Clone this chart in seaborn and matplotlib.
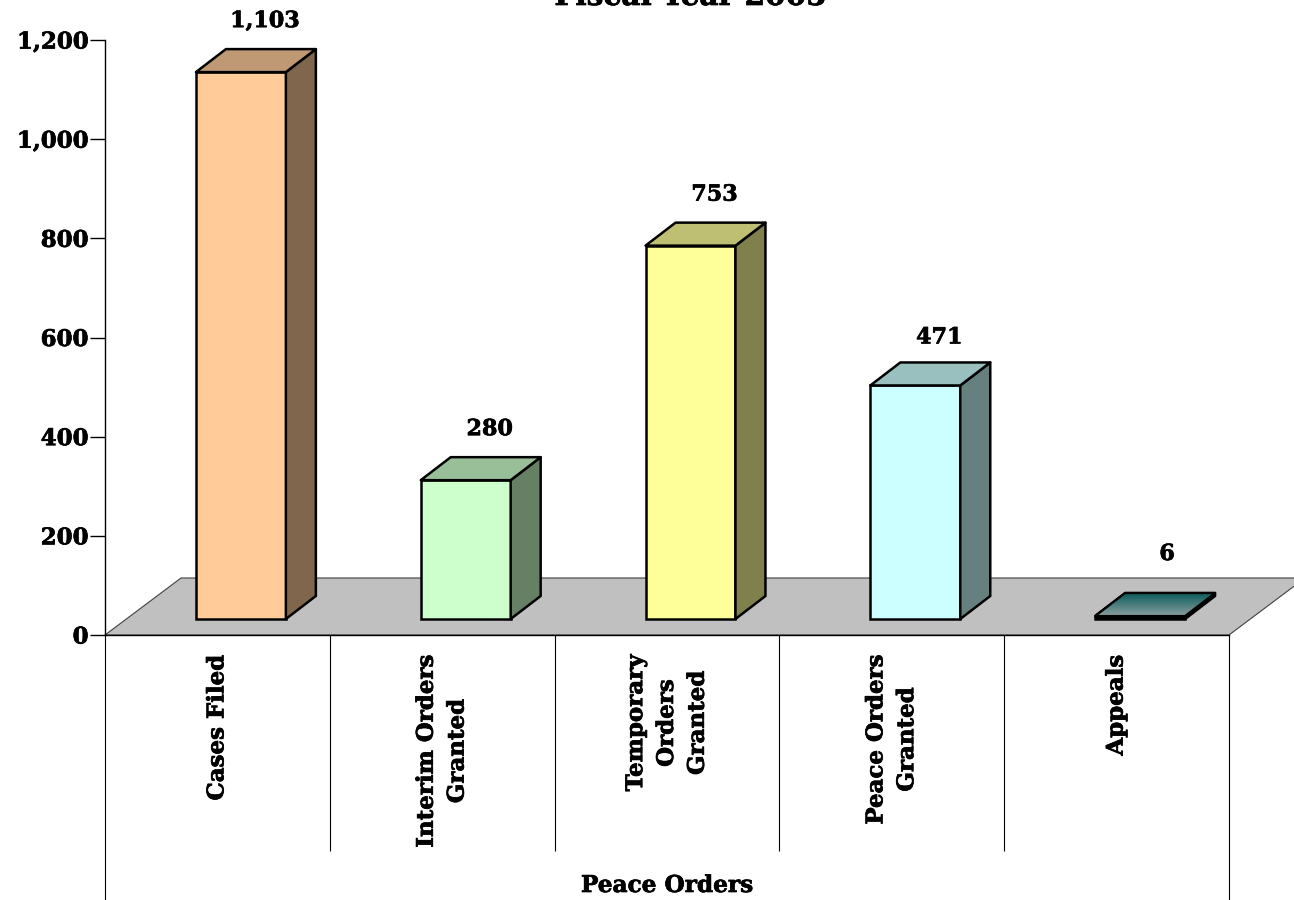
import numpy as np
import pandas as pd
import matplotlib
matplotlib.use("Agg")
import matplotlib.pyplot as plt
import matplotlib.patheffects as pe
from matplotlib.colors import LinearSegmentedColormap
from matplotlib.patches import Polygon
from matplotlib.ticker import FuncFormatter
import seaborn as sns

categories = ["Cases Filed", "Interim Orders\nGranted", "Temporary\nOrders\nGranted",
              "Peace Orders\nGranted", "Appeals"]
values = [1103, 280, 753, 471, 6]
face_colors = ["#FFCC99", "#CCFFCC", "#FFFF99", "#CCFFFF", "#0B5C5C"]
title = "Fiscal Year 2005"
xlabel = "Peace Orders"
y_ticks = [0, 200, 400, 600, 800, 1000, 1200]

W, H = 1294, 900
AX_L, AX_R, AX_T, AX_B = 105, 1229, 40, 635
YMAX = 1200
PX_X = (AX_R - AX_L) / len(categories)
PX_Y = (AX_B - AX_T) / YMAX
HEAVY = [pe.withStroke(linewidth=0.5, foreground="black")]


def dx(px):
    return px / PX_X


def dy(px):
    return px / PX_Y


sns.set_style("white")
plt.rcParams["font.family"] = ["DejaVu Serif", "DejaVu Sans"]
plt.rcParams["font.weight"] = "bold"

fig = plt.figure(figsize=(W / 100, H / 100), dpi=100)
ax = fig.add_axes([AX_L / W, 1 - AX_B / H, (AX_R - AX_L) / W, (AX_B - AX_T) / H])

df = pd.DataFrame({"category": categories, "value": values})
sns.barplot(data=df, x="category", y="value", hue="category", order=categories,
            hue_order=categories, palette=dict(zip(categories, face_colors)),
            width=0.4, legend=False, saturation=1, edgecolor="black", linewidth=1.8,
            zorder=3, ax=ax)

ax.set_xlim(-0.5, len(categories) - 0.5)
ax.set_ylim(0, YMAX)

bars = sorted(ax.patches, key=lambda p: p.get_x())
shift_x, lift_y = dx(23.5), dy(16)
depth_x, depth_y = dx(30), dy(23)


def shade(color, k):
    r, g, b = matplotlib.colors.to_rgb(color)
    return (r * k, g * k, b * k)


for i, (bar, val, col) in enumerate(zip(bars, values, face_colors)):
    bar.set_x(bar.get_x() + shift_x)
    bar.set_y(lift_y)
    bar.set_clip_on(False)
    x0, x1 = bar.get_x(), bar.get_x() + bar.get_width()
    y0, y1 = lift_y, lift_y + val
    top = Polygon([(x0, y1), (x0 + depth_x, y1 + depth_y), (x1 + depth_x, y1 + depth_y), (x1, y1)],
                  closed=True, fc=shade(col, 0.75), ec="black", lw=1.8, zorder=3,
                  joinstyle="round", clip_on=False)
    side = Polygon([(x1, y0), (x1 + depth_x, y0 + depth_y), (x1 + depth_x, y1 + depth_y), (x1, y1)],
                   closed=True, fc=shade(col, 0.5) if i < 4 else "black", ec="black", lw=1.8, zorder=3,
                   joinstyle="round", clip_on=False)
    ax.add_patch(side)
    ax.add_patch(top)
    if i == 4:
        # the very flat last bar: its top fades from dark teal to grey
        cmap = LinearSegmentedColormap.from_list("teal", ["#8A9E9E", "#0B5C5C"])
        img = ax.imshow(np.linspace(0, 1, 64).reshape(-1, 1), cmap=cmap, aspect="auto",
                        origin="lower", extent=(x0, x1 + depth_x, y1, y1 + depth_y),
                        zorder=3.05, clip_on=True)
        img.set_clip_path(top)
        edge = Polygon(top.get_xy(), closed=True, fc="none", ec="black", lw=1.6, zorder=3.1,
                       clip_on=False)
        ax.add_patch(edge)
        bar.set_facecolor("black")
    label_gap = {3: 64, 4: 78}.get(i, 67)
    label_dx = 27 if i == 4 else 24
    ax.annotate(f"{val:,}", xy=((x0 + x1) / 2, val), xytext=(label_dx * 0.72, label_gap * 0.72),
                textcoords="offset points", ha="center", va="center", fontsize=16,
                fontweight="bold", color="black", annotation_clip=False, zorder=5,
                path_effects=HEAVY)

ax.set_xlim(-0.5, len(categories) - 0.5)
ax.set_ylim(0, YMAX)

floor_x0, floor_x1 = -0.5, len(categories) - 0.5
floor = Polygon([(floor_x0, 0), (floor_x0 + dx(76), dy(57)), (floor_x1 + dx(76), dy(57)), (floor_x1, 0)],
                closed=True, fc="#C0C0C0", ec="#404040", lw=0.8, zorder=1, clip_on=False)
ax.add_patch(floor)

ax.set_yticks(y_ticks)
ax.yaxis.set_major_formatter(FuncFormatter(lambda v, _: f"{int(v):,}"))
ax.tick_params(axis="y", left=True, length=15 * 0.72, width=1, pad=1, labelsize=16.5, color="black",
               labelcolor="black")
ax.set_xticks(range(len(categories)))
ax.set_xticklabels(categories, rotation=90, ha="center", va="top", multialignment="center",
                   fontsize=16.5, fontweight="bold", color="black", linespacing=1.52)
ax.tick_params(axis="x", bottom=False, length=0, pad=20 * 0.72)
for lab in ax.get_xticklabels() + ax.get_yticklabels():
    lab.set_path_effects(HEAVY)

sns.despine(ax=ax, top=True, right=True)
for s in ("left", "bottom"):
    ax.spines[s].set_color("black")
    ax.spines[s].set_linewidth(1)
    ax.spines[s].set_zorder(2)

trans = ax.get_xaxis_transform()
inner_bottom = (AX_B - 851) / (AX_B - AX_T)
outer_bottom = (AX_B - 900) / (AX_B - AX_T)
ax.vlines(np.arange(1, len(categories)) - 0.5, inner_bottom, 0, transform=trans, colors="black",
          lw=0.8, clip_on=False)
ax.vlines([-0.5, len(categories) - 0.5], outer_bottom, 0, transform=trans, colors="black",
          lw=0.8, clip_on=False)

ax.set_xlabel("")
ax.set_ylabel("")
ax.text(0.5, (AX_B - 886) / (AX_B - AX_T), xlabel, transform=ax.transAxes, ha="center", va="center",
        fontsize=16.7, fontweight="bold", color="black", path_effects=HEAVY)
ax.text((691 - AX_L) / (AX_R - AX_L), (AX_B - 5) / (AX_B - AX_T), title, transform=ax.transAxes,
        ha="center", va="baseline", fontsize=21.3, fontweight="bold", color="black", path_effects=HEAVY)

fig.savefig("out.png", dpi=100, facecolor="white")
